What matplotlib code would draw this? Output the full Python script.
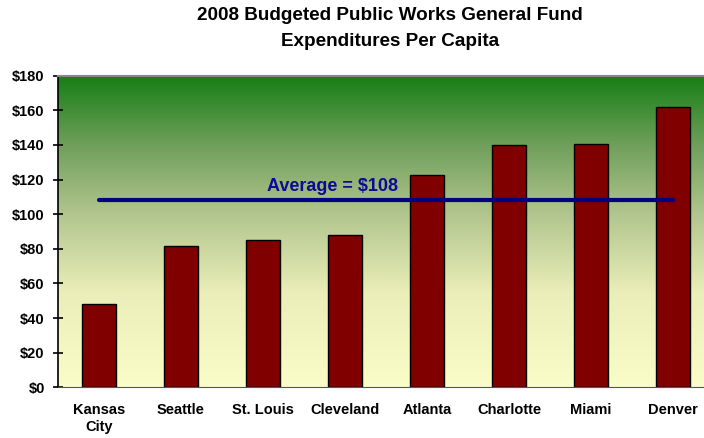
import numpy as np
import matplotlib
matplotlib.use("Agg")
from matplotlib import pyplot as plt
from matplotlib.colors import LinearSegmentedColormap

plt.rcParams['font.family'] = ['Liberation Sans', 'DejaVu Sans']

cities = ["Kansas\nCity", "Seattle", "St. Louis", "Cleveland", "Atlanta",
          "Charlotte", "Miami", "Denver"]
spending = [48, 81.5, 85, 88, 122.5, 140, 140.5, 162]
average = 108
y_ticks = [0, 20, 40, 60, 80, 100, 120, 140, 160, 180]

fig = plt.figure(figsize=(7.04, 4.38), dpi=100)
ax = fig.add_axes([58 / 704, (438 - 387.3) / 438, 1 - 58 / 704, 311.6 / 438])

x = np.arange(len(cities))
x_right = len(cities) - 0.5 - 10 / 82
ax.set_xlim(-0.5, x_right)
ax.set_ylim(0, 180)

# green-to-pale-yellow background
bg = LinearSegmentedColormap.from_list(
    "bg", [(0.0, "#fbfdc8"), (0.3, "#ebeeb8"), (0.55, "#b3c68f"),
           (0.78, "#6e9f5a"), (1.0, "#167e14")])
grad = np.linspace(0, 1, 256).reshape(-1, 1)
ax.imshow(grad, cmap=bg, aspect="auto", origin="lower",
          extent=[-0.5, x_right, 0, 180], zorder=0)

ax.bar(x, spending, width=0.42, color="#800000", edgecolor="black",
       linewidth=1.0, zorder=2)

ax.plot([x[0], x[-1]], [average, average], color="#000080", linewidth=3,
        solid_capstyle="round", zorder=3)
ax.text(2.85, average + 3, "Average = $%d" % average, color="#0a0a96",
        fontsize=13, fontweight="bold", ha="center", va="bottom", zorder=4)

ax.set_yticks(y_ticks)
ax.set_yticklabels(["$%d" % v for v in y_ticks], fontsize=10.5, fontweight="bold")
ax.set_xticks(x)
ax.set_xticklabels(cities, fontsize=10.5, fontweight="bold", linespacing=1.35)
ax.tick_params(axis="x", length=0, pad=11)
ax.tick_params(axis="y", direction="inout", length=7, width=1.2, color="black", pad=6)

ax.spines["left"].set_color("black")
ax.spines["left"].set_linewidth(1.2)
ax.spines["bottom"].set_color("#555555")
ax.spines["top"].set_color("#888888")
ax.spines["top"].set_linewidth(1.5)
ax.spines["right"].set_visible(False)

fig.text(390 / 704, 1 - 16 / 438, "2008 Budgeted Public Works General Fund",
         ha="center", va="center", fontsize=13.6, fontweight="bold")
fig.text(390 / 704, 1 - 42 / 438, "Expenditures Per Capita",
         ha="center", va="center", fontsize=13.6, fontweight="bold")

fig.savefig("out.png", dpi=100)
